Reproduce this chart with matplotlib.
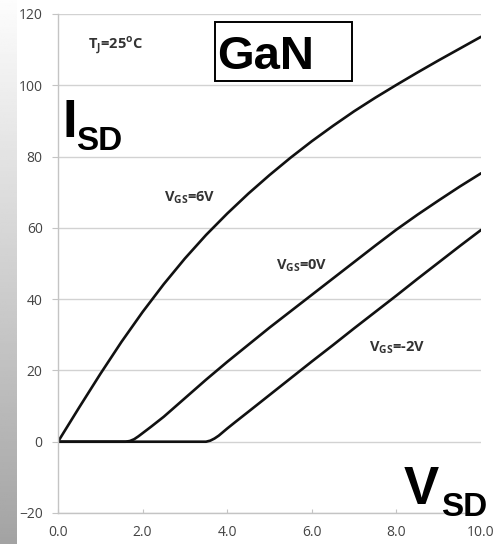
import numpy as np
import matplotlib
matplotlib.use('Agg')
import matplotlib.pyplot as plt
from matplotlib.patches import Rectangle

# VSD (V) -> ISD (A)
vsd_6v = [0.0, 0.5, 1.0, 1.5, 2.0, 2.5, 3.0, 3.5, 4.0, 4.5, 5.0, 5.5, 6.0,
          6.5, 7.0, 7.5, 8.0, 8.5, 9.0, 9.5, 10.0]
isd_6v = [0.0, 9.6, 19.0, 28.0, 36.4, 44.2, 51.4, 58.0, 64.0, 69.6, 74.8, 79.7,
          84.3, 88.6, 92.7, 96.5, 100.1, 103.6, 107.0, 110.3, 113.6]

vsd_0v = [0.0, 1.0, 1.6, 1.7, 1.8, 1.9, 2.0, 2.2, 2.5, 3.0, 3.5, 4.0, 4.5,
          5.0, 5.5, 6.0, 6.5, 7.0, 7.5, 8.0, 8.5, 9.0, 9.5, 10.0]
isd_0v = [0.0, 0.0, 0.0, 0.2, 0.7, 1.5, 2.4, 4.2, 7.0, 12.2, 17.4, 22.4, 27.2,
          32.0, 36.6, 41.2, 45.8, 50.4, 55.0, 59.5, 63.7, 67.7, 71.6, 75.3]

vsd_m2v = [0.0, 3.0, 3.5, 3.6, 3.7, 3.8, 3.9, 4.0, 4.2, 4.5, 5.0, 5.5, 6.0,
           6.5, 7.0, 7.5, 8.0, 8.5, 9.0, 9.5, 10.0]
isd_m2v = [0.0, 0.0, 0.0, 0.3, 0.9, 1.7, 2.7, 3.7, 5.6, 8.4, 13.1, 17.8, 22.5,
           27.1, 31.8, 36.4, 41.0, 45.7, 50.3, 54.9, 59.4]

x_ticks = [0, 2, 4, 6, 8, 10]
x_labels = ['0.0', '2.0', '4.0', '6.0', '8.0', '10.0']
y_ticks = [-20, 0, 20, 40, 60, 80, 100, 120]

fig = plt.figure(figsize=(5.0, 5.44), dpi=100)

# gray slide background strip on the left
bg = fig.add_axes([0, 0, 0.034, 1])
grad = np.linspace(0.99, 0.64, 256).reshape(-1, 1)
bg.imshow(grad, cmap='gray', vmin=0, vmax=1, aspect='auto', extent=[0, 1, 0, 1], origin='upper')
bg.axis('off')

ax = fig.add_axes([0.116, 0.057, 0.846, 0.9173])
ax.set_xlim(0, 10)
ax.set_ylim(-20, 120)

for xs, ys in [(vsd_6v, isd_6v), (vsd_0v, isd_0v), (vsd_m2v, isd_m2v)]:
    ax.plot(xs, ys, color='#111111', lw=1.9, solid_capstyle='round', solid_joinstyle='round')

ax.set_xticks(x_ticks)
ax.set_xticklabels(x_labels)
ax.set_yticks(y_ticks)
ax.grid(axis='y', color='#d2d2d2', lw=1.0)
ax.set_axisbelow(True)
for s in ['top', 'right']:
    ax.spines[s].set_visible(False)
for s in ['left', 'bottom']:
    ax.spines[s].set_color('#c4c4c4')
    ax.spines[s].set_linewidth(1.0)
ax.tick_params(axis='y', direction='out', length=4, color='#c4c4c4', pad=7,
               labelsize=10, labelcolor='#444444')
ax.tick_params(axis='x', direction='in', length=3, color='#c4c4c4', pad=9,
               labelsize=10, labelcolor='#444444')
for lab in ax.get_xticklabels() + ax.get_yticklabels():
    lab.set_family('Open Sans')
    lab.set_fontweight('medium')

lab_kw = dict(family='Open Sans', fontweight='bold', fontsize=10.5,
              color='#333333', ha='center', va='center')
ax.text(3.12, 68.4, r'V$_{\mathregular{GS}}$=6V', **lab_kw)
ax.text(5.77, 49.3, r'V$_{\mathregular{GS}}$=0V', **lab_kw)
ax.text(8.02, 26.3, r'V$_{\mathregular{GS}}$=-2V', **lab_kw)
ax.text(1.36, 111.3, r'T$_{\mathregular{J}}$=25$^{\mathregular{o}}$C', **lab_kw)

# big axis names
big = dict(family='Liberation Sans', fontweight='bold', color='black')
fig.text(0.126, 0.748, 'I', fontsize=38, **big)
fig.text(0.153, 0.724, 'SD', fontsize=24, **big)
fig.text(0.808, 0.074, 'V', fontsize=38, **big)
fig.text(0.882, 0.052, 'SD', fontsize=24, **big)

# GaN box
fig.text(0.434, 0.873, 'GaN', fontsize=34, **big)
fig.patches.append(Rectangle((0.430, 0.851), 0.274, 0.1085, transform=fig.transFigure,
                             fill=False, ec='black', lw=1.4, figure=fig))

fig.savefig('out.png', dpi=100)
